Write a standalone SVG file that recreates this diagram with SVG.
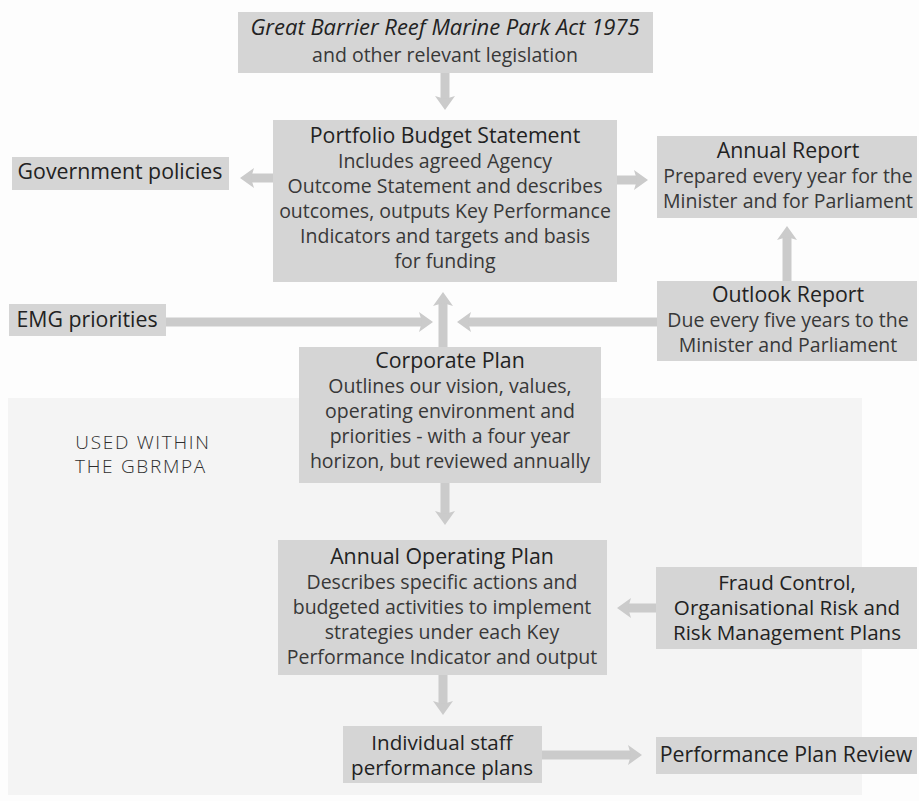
<svg xmlns="http://www.w3.org/2000/svg" width="919" height="801" viewBox="0 0 919 801">
<style>
.box{fill:#d5d5d5}
.t{font-family:"Open Sans","Noto Sans","DejaVu Sans",sans-serif;font-size:21.3px;fill:#222;text-anchor:middle}
.m{font-size:20.6px}
.b{fill:#383838;font-size:19.5px}
.it{font-style:italic;font-size:22px}
.used{font-family:"Open Sans","Noto Sans",sans-serif;font-size:19px;font-weight:300;letter-spacing:1.7px;fill:#2e2e2e;text-anchor:middle}
.arr{stroke:#cbcbcb;stroke-width:9;fill:none;marker-end:url(#ah)}
</style>
<defs>
<marker id="ah" markerUnits="userSpaceOnUse" viewBox="0 0 14 20" refX="3" refY="10" markerWidth="14" markerHeight="20" orient="auto">
<path d="M0,0 L14,10 L0,20 L3,10 Z" fill="#cbcbcb"/>
</marker>
</defs>
<rect width="919" height="801" fill="#fdfdfd"/>
<rect x="8" y="398" width="854" height="397" fill="#f4f4f4"/>
<text class="used" x="143" y="449">USED WITHIN</text>
<text class="used" x="141" y="473">THE GBRMPA</text>

<g id="connectors">
<line class="arr" x1="445" y1="73" x2="445" y2="99"/>
<line class="arr" x1="273" y1="178" x2="251" y2="178"/>
<line class="arr" x1="617" y1="180" x2="637" y2="180"/>
<line class="arr" x1="166" y1="322" x2="422" y2="322"/>
<line class="arr" x1="657" y1="322" x2="468" y2="322"/>
<line class="arr" x1="443" y1="347" x2="443" y2="303"/>
<line class="arr" x1="787" y1="281" x2="787" y2="237"/>
<line class="arr" x1="445" y1="483" x2="445" y2="514"/>
<line class="arr" x1="656" y1="608" x2="628" y2="608"/>
<line class="arr" x1="443" y1="675" x2="443" y2="704"/>
<line class="arr" x1="542" y1="755" x2="631" y2="755"/>
</g>

<g id="act">
<rect class="box" x="238" y="12" width="415" height="61"/>
<text class="t it" x="445" y="35">Great Barrier Reef Marine Park Act 1975</text>
<text class="t b" x="445" y="62">and other relevant legislation</text>
</g>

<g id="pbs">
<rect class="box" x="273" y="120" width="344" height="162"/>
<text class="t" x="445" y="143">Portfolio Budget Statement</text>
<text class="t b" x="445" y="168">Includes agreed Agency</text>
<text class="t b" x="445" y="193">Outcome Statement and describes</text>
<text class="t b" x="445" y="218">outcomes, outputs Key Performance</text>
<text class="t b" x="445" y="243">Indicators and targets and basis</text>
<text class="t b" x="445" y="268">for funding</text>
</g>

<g id="gov">
<rect class="box" x="12" y="157" width="217" height="33"/>
<text class="t" x="120" y="179">Government policies</text>
</g>

<g id="annual-report">
<rect class="box" x="657" y="136" width="260" height="82"/>
<text class="t" x="788" y="158">Annual Report</text>
<text class="t b" x="788" y="183">Prepared every year for the</text>
<text class="t b" x="788" y="208">Minister and for Parliament</text>
</g>

<g id="emg">
<rect class="box" x="9" y="304" width="157" height="32"/>
<text class="t" x="87" y="327">EMG priorities</text>
</g>

<g id="outlook">
<rect class="box" x="657" y="281" width="260" height="80"/>
<text class="t" x="788" y="302">Outlook Report</text>
<text class="t b" x="788" y="327">Due every five years to the</text>
<text class="t b" x="788" y="352">Minister and Parliament</text>
</g>

<g id="corporate">
<rect class="box" x="299" y="347" width="302" height="136"/>
<text class="t" x="450" y="368">Corporate Plan</text>
<text class="t b" x="450" y="393">Outlines our vision, values,</text>
<text class="t b" x="450" y="418">operating environment and</text>
<text class="t b" x="450" y="443">priorities - with a four year</text>
<text class="t b" x="450" y="468">horizon, but reviewed annually</text>
</g>

<g id="aop">
<rect class="box" x="278" y="540" width="329" height="135"/>
<text class="t" x="442" y="564">Annual Operating Plan</text>
<text class="t b" x="442" y="589">Describes specific actions and</text>
<text class="t b" x="442" y="614">budgeted activities to implement</text>
<text class="t b" x="442" y="639">strategies under each Key</text>
<text class="t b" x="442" y="664">Performance Indicator and output</text>
</g>

<g id="fraud">
<rect class="box" x="656" y="567" width="261" height="82"/>
<text class="t m" x="787" y="590">Fraud Control,</text>
<text class="t m" x="787" y="615">Organisational Risk and</text>
<text class="t m" x="787" y="640">Risk Management Plans</text>
</g>

<g id="individual">
<rect class="box" x="343" y="726" width="199" height="57"/>
<text class="t m" x="442" y="750">Individual staff</text>
<text class="t m" x="442" y="775">performance plans</text>
</g>

<g id="ppr">
<rect class="box" x="656" y="737" width="261" height="37"/>
<text class="t" x="786" y="762">Performance Plan Review</text>
</g>
</svg>
